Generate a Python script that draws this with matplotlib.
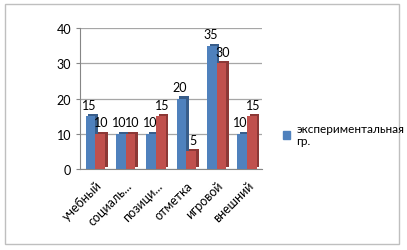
import numpy as np
import matplotlib.pyplot as plt
import matplotlib.patheffects as pe
from matplotlib.patches import Rectangle

plt.rcParams['font.family'] = ['Lato', 'DejaVu Sans']

# chart data
categories = ["учебный", "социаль...", "позици...", "отметка", "игровой", "внешний"]
exp_group = [15, 10, 10, 20, 35, 10]
ctrl_group = [10, 10, 15, 5, 30, 15]
legend_label = "экспериментальная\nгр."

blue, blue_dark = "#4F81BD", "#385D8A"
red, red_dark = "#C0504D", "#8C3836"

fig = plt.figure(figsize=(4.07, 2.51), dpi=100)
fig.patches.append(Rectangle((0.012, 0.025), 0.968, 0.955, transform=fig.transFigure,
                             fill=False, edgecolor="#bfbfbf", linewidth=1))
ax = fig.add_axes([0.197, 0.323, 0.447, 0.561])

x = np.arange(len(categories))
w = 0.32
b1 = ax.bar(x - w / 2, exp_group, w, color=blue, zorder=3,
            path_effects=[pe.SimplePatchShadow(offset=(2, 1.5), shadow_rgbFace=blue_dark, alpha=1),
                          pe.Normal()])
b2 = ax.bar(x + w / 2, ctrl_group, w, color=red, zorder=3,
            path_effects=[pe.SimplePatchShadow(offset=(2, 1.5), shadow_rgbFace=red_dark, alpha=1),
                          pe.Normal()])

for bars, vals, dx in ((b1, exp_group, -1), (b2, ctrl_group, 1)):
    for r, v in zip(bars, vals):
        ax.annotate(str(v), (r.get_x() + r.get_width() / 2, v), xytext=(dx, 4),
                    textcoords="offset points", ha="center", va="bottom", fontsize=9)

ax.set_xlim(-0.5, len(categories) - 0.5)
ax.set_ylim(0, 40)
ax.set_yticks([0, 10, 20, 30, 40])
ax.yaxis.grid(True, color="#a6a6a6", linewidth=0.9, zorder=0)
ax.set_xticks(x)
ax.set_xticklabels(categories, rotation=45, ha="right", rotation_mode="anchor", fontsize=9)
ax.tick_params(axis="y", labelsize=9, length=3, color="#868686")
ax.tick_params(axis="x", length=0, pad=7)
for s in ["top", "right"]:
    ax.spines[s].set_visible(False)
ax.spines["left"].set_color("#868686")
ax.spines["bottom"].set_color("#868686")

handle = Rectangle((0, 0), 1, 1, color=blue)
fig.legend([handle], [legend_label], loc="upper left", bbox_to_anchor=(0.67, 0.55),
           frameon=False, fontsize=8.5, handlelength=0.6, handleheight=0.6,
           handletextpad=0.5)

fig.savefig("out.png", dpi=100)
